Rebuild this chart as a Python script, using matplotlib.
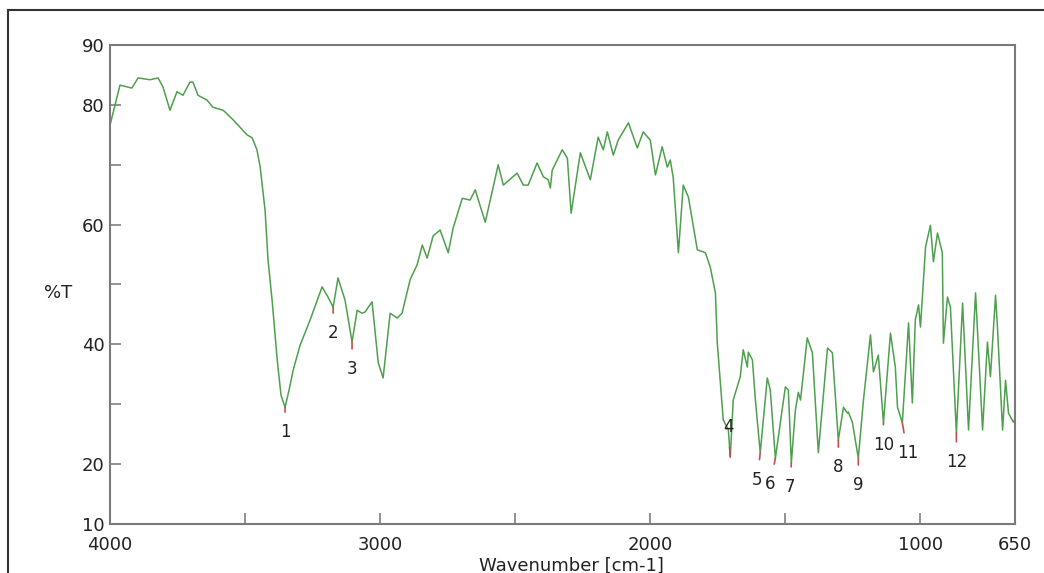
import matplotlib
matplotlib.use("Agg")
import matplotlib.pyplot as plt
from matplotlib.lines import Line2D

plt.rcParams['font.family'] = ['DejaVu Sans']

# IR spectrum (wavenumber in cm-1, %T)
wavenumber = [4000, 3963, 3919, 3896, 3852, 3822, 3804, 3778, 3752, 3730, 3704, 3693,
              3674, 3641, 3619, 3581, 3544, 3493, 3474, 3456, 3444, 3426, 3415, 3400,
              3381, 3367, 3352, 3337, 3322, 3296, 3259, 3215, 3193, 3174, 3156, 3130,
              3104, 3085, 3067, 3056, 3030, 3007, 2989, 2963, 2937, 2919, 2889, 2863,
              2844, 2826, 2804, 2778, 2748, 2730, 2696, 2667, 2648, 2611, 2563, 2544,
              2493, 2470, 2452, 2419, 2396, 2378, 2370, 2363, 2326, 2307, 2293, 2259,
              2222, 2193, 2174, 2159, 2137, 2119, 2081, 2048, 2026, 2000, 1981, 1956,
              1937, 1926, 1915, 1896, 1878, 1859, 1826, 1796, 1778, 1759, 1752, 1730,
              1711, 1704, 1693, 1667, 1656, 1641, 1637, 1622, 1611, 1593, 1567, 1556,
              1537, 1500, 1489, 1478, 1463, 1452, 1444, 1419, 1400, 1378, 1344, 1326,
              1304, 1285, 1270, 1267, 1252, 1230, 1211, 1185, 1174, 1156, 1137, 1111,
              1093, 1085, 1067, 1044, 1030, 1019, 1007, 1000, 981, 963, 952, 937,
              919, 915, 900, 889, 867, 844, 822, 796, 770, 752, 741, 722,
              715, 696, 685, 674, 656, 650]
transmittance = [76.6, 83.3, 82.8, 84.5, 84.2, 84.5, 83.0, 79.1, 82.2, 81.6, 83.8, 83.8,
                 81.6, 80.8, 79.6, 79.1, 77.5, 75.0, 74.5, 72.5, 69.6, 62.4, 54.1, 47.4,
                 37.4, 31.5, 29.5, 32.4, 35.7, 39.9, 44.1, 49.6, 47.9, 46.2, 51.1, 47.4,
                 40.4, 45.7, 45.2, 45.4, 47.1, 36.9, 34.4, 45.2, 44.4, 45.2, 50.8, 53.3,
                 56.6, 54.4, 58.1, 59.1, 55.3, 59.4, 64.4, 64.1, 65.8, 60.4, 70.0, 66.6,
                 68.6, 66.6, 66.6, 70.3, 68.0, 67.5, 66.1, 69.1, 72.5, 71.1, 61.9, 72.0,
                 67.5, 74.6, 72.5, 75.5, 71.6, 74.1, 77.0, 72.8, 75.5, 74.1, 68.3, 73.0,
                 69.6, 70.8, 67.8, 55.3, 66.6, 64.6, 55.8, 55.3, 52.9, 48.6, 40.2, 27.4,
                 25.7, 21.2, 30.7, 34.6, 39.1, 36.2, 38.7, 37.4, 30.7, 21.9, 34.4, 32.4,
                 21.0, 32.9, 32.4, 20.2, 29.0, 32.0, 30.7, 41.1, 38.6, 21.9, 39.4, 38.6,
                 24.0, 29.5, 28.5, 28.7, 27.0, 21.0, 30.7, 41.6, 35.4, 38.2, 26.9, 41.9,
                 36.2, 29.5, 26.9, 43.6, 30.2, 44.1, 46.6, 42.9, 56.3, 59.9, 53.8, 58.6,
                 55.3, 40.2, 47.9, 46.2, 25.2, 46.9, 25.7, 48.6, 25.7, 40.4, 34.6, 48.2,
                 42.9, 25.7, 34.0, 28.5, 27.0, 27.5]

# picked peaks
peak_labels = ['1', '2', '3', '4', '5', '6', '7', '8', '9', '10', '11', '12']
peak_wn = [3352, 3174, 3104, 1704, 1593, 1537, 1478, 1304, 1230, 1137, 1067, 867]
peak_t = [29.5, 46.2, 40.4, 21.2, 21.9, 21.0, 20.2, 24.0, 21.0, 26.9, 26.9, 25.2]
label_offsets = [(0, -25), (0, -26), (0, -27), (-2, 30), (-3, -27), (-5, -26),
                 (-1, -24), (0, -27), (0, -27), (0, -22), (5, -30), (0, -29)]

fig = plt.figure(figsize=(10.44, 5.73), dpi=100)
ax = fig.add_axes([110 / 1044, 49 / 573, 905 / 1044, 479 / 573])

ax.plot(wavenumber, transmittance, color='#4e9f4e', lw=1.1)

for lab, w, t, off in zip(peak_labels, peak_wn, peak_t, label_offsets):
    ax.annotate(lab, xy=(w, t), xytext=off, textcoords='offset pixels',
                ha='center', va='center', fontsize=12, color='#222222',
                arrowprops=dict(arrowstyle='-', color='#c0504d', lw=1.2,
                                shrinkA=6, shrinkB=0))

ax.set_xlim(4000, 650)
ax.set_ylim(10, 90)
ax.set_xticks([4000, 3000, 2000, 1000, 650])
ax.set_xticks([3500, 2500, 1500], minor=True)
ax.set_yticks([10, 20, 40, 60, 80, 90])
ax.set_yticks([30, 50, 70], minor=True)
ax.tick_params(which='both', direction='in', length=8, width=1.2, color='#808080',
               labelsize=13, labelcolor='#222222')
ax.tick_params(axis='x', pad=9)
ax.tick_params(axis='y', pad=4)
for s in ax.spines.values():
    s.set_color('#7a7a7a')
    s.set_linewidth(1.5)

fig.text(571 / 1044, 1 - 557 / 573, 'Wavenumber [cm-1]', ha='center', va='top',
         fontsize=13, color='#222222')
fig.text(58 / 1044, 1 - 293 / 573, '%T', ha='center', va='center',
         fontsize=13, color='#222222')

# outer frame of the original screenshot
fig.add_artist(Line2D([8 / 1044, 8 / 1044], [0, 1 - 10 / 573], color='#333333', lw=1.5))
fig.add_artist(Line2D([8 / 1044, 1], [1 - 10 / 573, 1 - 10 / 573], color='#333333', lw=1.5))

fig.savefig('out.png', dpi=100)
